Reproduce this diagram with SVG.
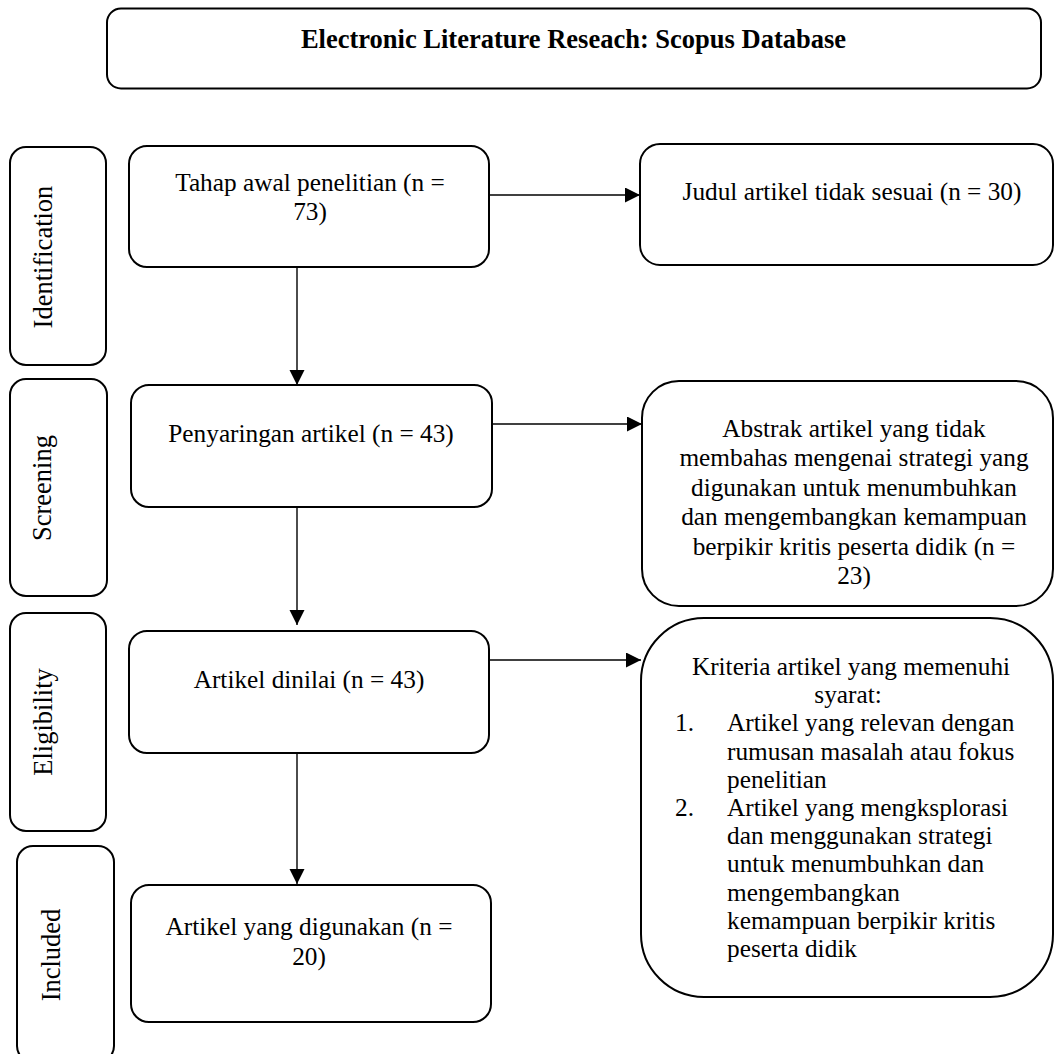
<svg xmlns="http://www.w3.org/2000/svg" width="1054" height="1054" viewBox="0 0 1054 1054">
<defs>
<marker id="ah" markerUnits="userSpaceOnUse" markerWidth="16" markerHeight="16" refX="15" refY="7.5" orient="auto">
<path d="M0,0 L15,7.5 L0,15 z" fill="#000"/>
</marker>
<style>
.box{fill:#fff;stroke:#000;stroke-width:2}
.t{font-family:"Liberation Serif","Times New Roman",serif;font-size:25.3px;fill:#000}
.c{text-anchor:middle}
.side{font-family:"Liberation Serif","Times New Roman",serif;font-size:26.5px;fill:#000;text-anchor:middle}
.title{font-family:"Liberation Serif","Times New Roman",serif;font-size:26.5px;font-weight:bold;fill:#000;text-anchor:middle}
.conn{stroke:#000;stroke-width:1.4;fill:none}
</style>
</defs>
<rect width="1054" height="1054" fill="#fff"/>

<g id="title">
<rect class="box" x="107" y="8.5" width="934" height="80" rx="14"/>
<text class="title" x="573.5" y="48">Electronic Literature Reseach: Scopus Database</text>
</g>

<g id="stage-identification">
<rect class="box" x="10" y="147" width="96" height="218" rx="16"/>
<text class="side" transform="translate(52,257) rotate(-90)">Identification</text>
</g>
<g id="stage-screening">
<rect class="box" x="10" y="379" width="97" height="217" rx="16"/>
<text class="side" transform="translate(51,488) rotate(-90)">Screening</text>
</g>
<g id="stage-eligibility">
<rect class="box" x="10" y="613" width="96" height="218" rx="16"/>
<text class="side" transform="translate(52,722) rotate(-90)">Eligibility</text>
</g>
<g id="stage-included">
<rect class="box" x="17" y="846" width="97" height="216" rx="16"/>
<text class="side" transform="translate(60,955) rotate(-90)">Included</text>
</g>

<g id="tahap">
<rect class="box" x="129" y="146" width="360" height="121" rx="18"/>
<text class="t c" x="310" y="191">Tahap awal penelitian (n =</text>
<text class="t c" x="310" y="220">73)</text>
</g>
<g id="penyaringan">
<rect class="box" x="131" y="385" width="361" height="122" rx="18"/>
<text class="t c" x="311" y="442">Penyaringan artikel (n = 43)</text>
</g>
<g id="dinilai">
<rect class="box" x="129" y="631" width="360" height="122" rx="18"/>
<text class="t c" x="309" y="688">Artikel dinilai (n = 43)</text>
</g>
<g id="digunakan">
<rect class="box" x="131" y="885" width="360" height="137" rx="18"/>
<text class="t c" x="309" y="935">Artikel yang digunakan (n =</text>
<text class="t c" x="309" y="965">20)</text>
</g>

<g id="judul">
<rect class="box" x="640" y="144" width="413" height="121" rx="20"/>
<text class="t c" x="852" y="200">Judul artikel tidak sesuai (n = 30)</text>
</g>
<g id="abstrak">
<rect class="box" x="642" y="381" width="411" height="225" rx="37"/>
<text class="t c" x="854" y="437">Abstrak artikel yang tidak</text>
<text class="t c" x="854" y="466.4">membahas mengenai strategi yang</text>
<text class="t c" x="854" y="495.8">digunakan untuk menumbuhkan</text>
<text class="t c" x="854" y="525.2">dan mengembangkan kemampuan</text>
<text class="t c" x="854" y="554.6">berpikir kritis peserta didik (n =</text>
<text class="t c" x="854" y="584">23)</text>
</g>
<g id="kriteria">
<rect class="box" x="641" y="618" width="412" height="379" rx="63"/>
<text class="t c" x="851" y="675">Kriteria artikel yang memenuhi</text>
<text class="t c" x="848" y="703.2">syarat:</text>
<text class="t" x="675" y="731.4">1.</text>
<text class="t" x="727" y="731.4">Artikel yang relevan dengan</text>
<text class="t" x="727" y="759.6">rumusan masalah atau fokus</text>
<text class="t" x="727" y="787.8">penelitian</text>
<text class="t" x="675" y="816">2.</text>
<text class="t" x="727" y="816">Artikel yang mengksplorasi</text>
<text class="t" x="727" y="844.2">dan menggunakan strategi</text>
<text class="t" x="727" y="872.4">untuk menumbuhkan dan</text>
<text class="t" x="727" y="900.6">mengembangkan</text>
<text class="t" x="727" y="928.8">kemampuan berpikir kritis</text>
<text class="t" x="727" y="957">peserta didik</text>
</g>

<g id="connectors">
<line class="conn" x1="297" y1="267" x2="297" y2="385" marker-end="url(#ah)"/>
<line class="conn" x1="297" y1="507" x2="297" y2="625" marker-end="url(#ah)"/>
<line class="conn" x1="297" y1="753" x2="297" y2="884" marker-end="url(#ah)"/>
<line class="conn" x1="489" y1="195" x2="640" y2="195" marker-end="url(#ah)"/>
<line class="conn" x1="492" y1="424" x2="642" y2="424" marker-end="url(#ah)"/>
<line class="conn" x1="489" y1="660" x2="641" y2="660" marker-end="url(#ah)"/>
</g>
</svg>
